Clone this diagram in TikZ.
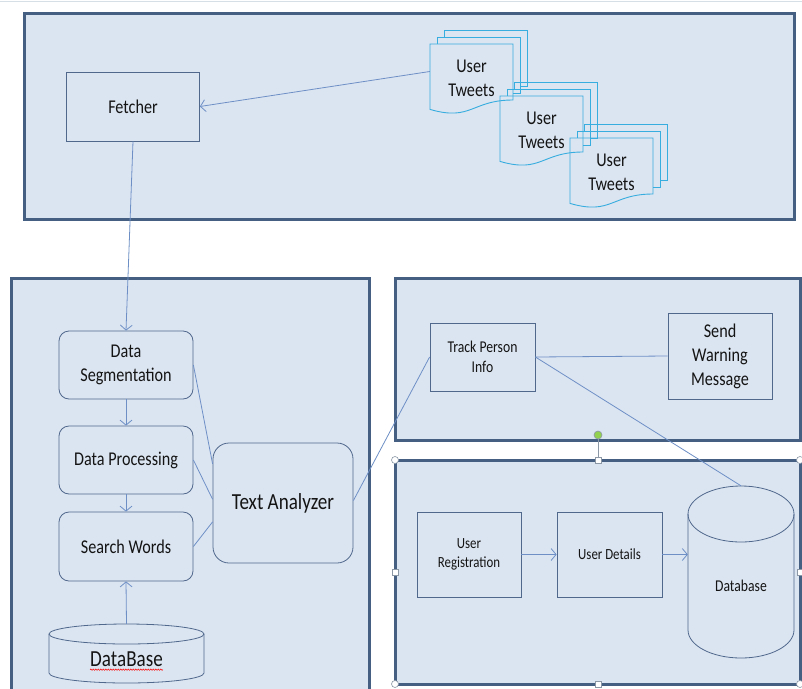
\documentclass[tikz,border=0pt]{standalone}
\usepackage{fontspec}
\setmainfont{Carlito}[FakeStretch=0.83]
\usetikzlibrary{arrows.meta,decorations.pathmorphing,calc}
\definecolor{framec}{RGB}{68,95,130}
\definecolor{fillc}{RGB}{219,229,241}
\definecolor{boxc}{RGB}{80,104,140}
\definecolor{linec}{RGB}{110,143,198}
\definecolor{docc}{RGB}{55,172,222}
\definecolor{handlec}{RGB}{140,152,166}
\definecolor{greenh}{RGB}{146,208,80}
\definecolor{topc}{RGB}{214,222,230}
\definecolor{txtc}{RGB}{20,20,20}
\newcommand\tweetstack[3]{%
 \draw[docline] (#1+14,#2-7) -- (#1+14,#2-14) -- (#1+97,#2-14) -- (#1+97,#2+42) -- (#1+90,#2+42);
 \draw[docline] (#1+7,#2) -- (#1+7,#2-7) -- (#1+90,#2-7) -- (#1+90,#2+49) -- (#1+83,#2+49);
 \draw[docline] (#1,#2) -- (#1+83,#2) -- (#1+83,#2+56) .. controls (#1+41.5,#2+56) and (#1+41.5,#2+77.5) .. (#1,#2+65.4) -- cycle;
 \node[f19, align=center, text=txtc, minimum width=83pt, minimum height=56pt, inner sep=0pt] (#3) at (#1+41.5,#2+34.5) {User\\Tweets};
}
\begin{document}
\begin{tikzpicture}[x=1pt,y=-1pt,
 frame/.style={draw=framec,line width=3pt,fill=fillc},
 box/.style={draw=boxc,line width=0.8pt,fill=fillc,align=center,inner sep=0pt,text=txtc},
 rbox/.style={box,rounded corners=10pt},
 conn/.style={draw=linec,line width=0.8pt},
 arr/.style={conn,-{Straight Barb[length=5pt,width=12pt,line width=0.8pt]}},
 docline/.style={draw=docc,line width=0.9pt},
 cyl/.style={draw=boxc,line width=0.8pt,fill=fillc},
 f15/.style={font=\fontsize{15.5}{19}\selectfont},
 f16/.style={font=\fontsize{16.5}{20}\selectfont},
 f19/.style={font=\fontsize{19.5}{24}\selectfont},
 f23/.style={font=\fontsize{23}{27}\selectfont},
 hcirc/.style={circle,draw=handlec,fill=white,line width=0.6pt,minimum size=7pt,inner sep=0pt},
 hsq/.style={rectangle,draw=handlec,fill=white,line width=0.6pt,minimum size=6pt,inner sep=0pt}
]
\fill[white] (0,0) rectangle (802,688);
\useasboundingbox (0,0) rectangle (802,688);
\draw[topc,line width=1pt] (0,1.5) -- (802,1.5);

% frames
\path[frame] (24,13) rectangle (794,219);
\path[frame] (11,278) rectangle (369,720);
\path[frame] (395,278) rectangle (800,440);
\path[frame] (395,460) rectangle (800,684);

% top frame
\node[box, minimum width=133pt, minimum height=69pt, f19] (fetch) at (133,106.5) {Fetcher};
\tweetstack{430}{44}{tw1}
\tweetstack{500}{96}{tw2}
\tweetstack{570}{138}{tw3}

% left frame
\node[rbox, minimum width=134pt, minimum height=68pt, f19] (dseg) at (126,365) {Data\\Segmentation};
\node[rbox, minimum width=134pt, minimum height=68pt, f19] (dproc) at (126,460) {Data Processing};
\node[rbox, minimum width=134pt, minimum height=69pt, f19] (swords) at (126,546.5) {Search Words};
\node[rbox, rounded corners=16pt, minimum width=140pt, minimum height=120pt, f23] (ta) at (283,503) {Text Analyzer};

\node[inner sep=0pt, minimum width=155pt, minimum height=59pt] (db1) at (126.5,653.5) {};
\path[cyl] (49,634) -- (49,673) arc[start angle=180,end angle=360,x radius=77.5pt,y radius=10pt] -- (204,634) arc[start angle=0,end angle=180,x radius=77.5pt,y radius=10pt] -- cycle;
\draw[boxc,line width=0.8pt] (49,634) arc[start angle=180,end angle=360,x radius=77.5pt,y radius=10pt];
\node[f23, inner sep=0pt, text=txtc] (db1t) at (126.5,659) {DataBase};
\draw[red,line width=0.5pt,decorate,decoration={snake,amplitude=0.7pt,segment length=2.5pt}] ([yshift=-3pt]db1t.south west) -- ([yshift=-3pt]db1t.south east);

% right top frame
\node[box, minimum width=105pt, minimum height=68pt, f16] (track) at (482.5,357) {Track Person\\Info};
\node[box, minimum width=104pt, minimum height=86pt, f19] (send) at (720,356) {Send\\Warning\\Message};

% right bottom frame
\node[box, minimum width=104pt, minimum height=85pt, f15] (ureg) at (469,554.5) {User\\Registration};
\node[box, minimum width=105pt, minimum height=85pt, f15] (udet) at (609.5,554.5) {User Details};
\node[inner sep=0pt, minimum width=106pt, minimum height=172pt] (db2) at (741,572) {};
\path[cyl] (688,514) -- (688,630) arc[start angle=180,end angle=360,x radius=53pt,y radius=28pt] -- (794,514) arc[start angle=0,end angle=180,x radius=53pt,y radius=28pt] -- cycle;
\draw[boxc,line width=0.8pt] (688,514) arc[start angle=180,end angle=360,x radius=53pt,y radius=28pt];
\node[f16, inner sep=0pt, text=txtc] (db2t) at (741,586) {Database};

% connectors
\draw[arr] ([yshift=7pt]tw1.west) -- (fetch.east);
\draw[arr] (fetch.south) -- (dseg.north);
\draw[arr] (dseg.south) -- (dproc.north);
\draw[arr] (dproc.south) -- (swords.north);
\draw[arr] (db1.north) -- (swords.south);
\draw[conn] (dseg.east) -- (ta.151.5);
\draw[conn] (dproc.east) -- (ta.177.5);
\draw[conn] (swords.east) -- (ta.195.2);
\draw[conn] (ta.2.5) -- (track.west);
\draw[conn] (track.east) -- (send.west);
\draw[conn] (track.east) -- (db2.north);
\draw[arr] (ureg.east) -- (udet.west);
\draw[arr] (udet.east) -- (udet.east -| db2.west);

% selection handles
\node[hcirc] (hc1) at (395,460) {};
\node[hcirc] (hc2) at (800,460) {};
\node[hcirc] (hc3) at (395,684) {};
\node[hcirc] (hc4) at (800,684) {};
\node[hsq] (hs1) at (598,460) {};
\node[hsq] (hs2) at (598,684) {};
\node[hsq] (hs3) at (395,572) {};
\node[hsq] (hs4) at (800,572) {};
\node[circle,draw=handlec,fill=greenh,line width=0.6pt,minimum size=8pt,inner sep=0pt] (rot) at (598,435) {};
\draw[handlec,line width=0.6pt] (rot) -- (hs1);
\end{tikzpicture}
\end{document}
